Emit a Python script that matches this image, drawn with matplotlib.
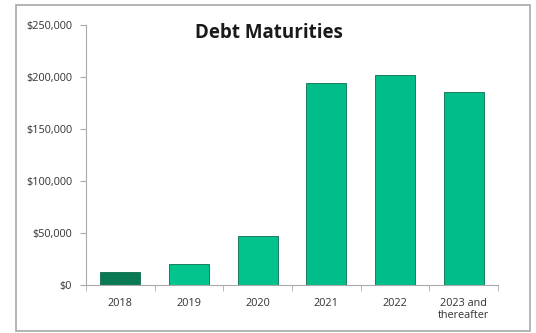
import numpy as np
import matplotlib.pyplot as plt
from matplotlib.patches import Rectangle
from matplotlib.ticker import FuncFormatter

years = ['2018', '2019', '2020', '2021', '2022', '2023 and\nthereafter']
amounts = [12500, 20200, 47000, 194000, 202000, 185500]
colors = ['#0b7a54', '#02c58e', '#02c28b', '#00bd89', '#00bd89', '#00bd89']

plt.rcParams['font.family'] = ['Open Sans', 'DejaVu Sans']

fig = plt.figure(figsize=(5.36, 3.33), dpi=100)
fig.patches.append(Rectangle((16/536, 2/333), 514/536, 326/333, transform=fig.transFigure,
                             fill=False, edgecolor='#a8a8a8', linewidth=1.2))
ax = fig.add_axes([86/536, 48/333, 412/536, 260/333])

x = np.arange(len(years))
ax.bar(x, amounts, width=0.58, color=colors, edgecolor='#0a6e4c', linewidth=0.6)

ax.set_xlim(-0.5, len(years) - 0.5)
ax.set_ylim(0, 250000)
ax.set_yticks(np.arange(0, 250001, 50000))
ax.yaxis.set_major_formatter(FuncFormatter(lambda v, p: '${:,.0f}'.format(v)))
ax.set_xticks(x)
ax.set_xticklabels(years)
ax.set_xticks(np.arange(-0.5, len(years), 1), minor=True)
ax.tick_params(axis='x', which='major', length=0, pad=9, labelsize=7.8, colors='#333333')
ax.tick_params(axis='x', which='minor', length=4, color='#aaaaaa', direction='out')
ax.tick_params(axis='y', length=4, color='#aaaaaa', labelsize=7.8, colors='#333333', pad=6)
ax.tick_params(axis='y', colors='#aaaaaa', labelcolor='#333333')

for s in ['top', 'right']:
    ax.spines[s].set_visible(False)
for s in ['left', 'bottom']:
    ax.spines[s].set_color('#aaaaaa')

fig.text(269/536, 1 - 33/333, 'Debt Maturities', ha='center', va='center',
         fontsize=13.5, fontweight='bold', color='#1a1a1a')

fig.savefig('out.png', dpi=100)
